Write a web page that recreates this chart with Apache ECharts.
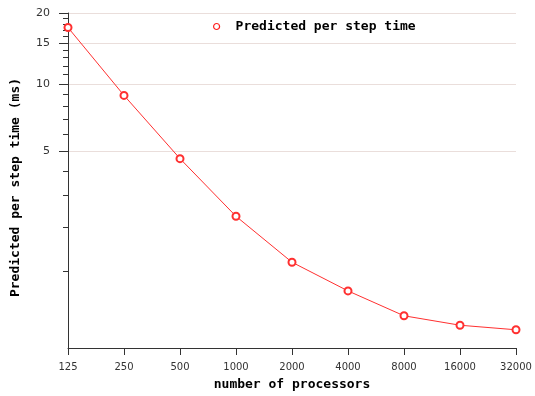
<!DOCTYPE html>
<html lang="en">
<head>
  <meta charset="UTF-8">
  <title>Predicted per step time</title>
  <script src="https://cdn.jsdelivr.net/npm/echarts@6/dist/echarts.min.js"></script>
</head>
<body style="margin:0;background:#fff;">
  <div id="main" style="width:535px;height:396px;"></div>
</body>
<script>
  // processors on x, predicted time (ms) on y
  var processors = ['125', '250', '500', '1000', '2000', '4000', '8000', '16000', '32000'];
  var stepTime = [17.4, 8.93, 4.59, 2.31, 1.18, 0.68, 0.34, 0.23, 0.18];
  var majorTicks = [5, 10, 15, 20];
  var minorTicks = [1, 2, 3, 4, 6, 7, 8, 9, 11, 12, 13, 14, 16, 17, 18, 19];
  var yMax = 20;

  // the y axis of the original is log(1 + t)
  function fwd(v) { return Math.log10(1 + v); }
  function back(v) { return Math.round(Math.pow(10, v) - 1); }

  var myChart = echarts.init(document.getElementById('main'));
  var mono = 'DejaVu Sans Mono';

  option = {
    backgroundColor: '#fff',
    animation: false,
    grid: { left: 68, right: 19, top: 13, bottom: 47 },
    legend: {
      left: 208,
      top: 15,
      data: [{
        name: 'Predicted per step time',
        icon: 'circle',
        itemStyle: { color: 'rgba(0,0,0,0)', borderColor: '#ff2020', borderWidth: 1.2 }
      }],
      itemWidth: 6,
      itemHeight: 6,
      textStyle: { fontFamily: mono, fontWeight: 'bold', fontSize: 13, color: '#000', padding: [0, 0, 0, 11] }
    },
    xAxis: {
      type: 'category',
      data: processors,
      boundaryGap: false,
      name: 'number of processors',
      nameLocation: 'middle',
      nameGap: 30,
      nameTextStyle: { fontFamily: mono, fontWeight: 'bold', fontSize: 13, color: '#000' },
      axisLine: { lineStyle: { color: '#333', width: 1 } },
      axisTick: { alignWithLabel: true, length: 7, lineStyle: { color: '#333' } },
      axisLabel: { fontFamily: 'DejaVu Sans', fontSize: 10, color: '#333', margin: 14 },
      splitLine: { show: false }
    },
    yAxis: [{
      type: 'value',
      min: 0,
      max: fwd(yMax),
      name: 'Predicted per step time (ms)',
      nameLocation: 'middle',
      nameGap: 46,
      nameTextStyle: { fontFamily: mono, fontWeight: 'bold', fontSize: 13, color: '#000', padding: [0, 14, 0, 0] },
      axisLine: { show: true, lineStyle: { color: '#333', width: 1 } },
      axisTick: { show: true, length: 9, customValues: majorTicks.map(fwd), lineStyle: { color: '#333' } },
      axisLabel: {
        customValues: majorTicks.map(fwd),
        fontFamily: 'DejaVu Sans', fontSize: 11, color: '#333', margin: 18,
        formatter: function (v) { return back(v); }
      },
      splitLine: { show: true, lineStyle: { color: '#eadedb', width: 1 } }
    }, {
      type: 'value',
      position: 'left',
      min: 0,
      max: fwd(yMax),
      axisLine: { show: false },
      axisTick: { show: true, length: 5, customValues: minorTicks.map(fwd), lineStyle: { color: '#333' } },
      axisLabel: { show: false },
      splitLine: { show: false }
    }],
    series: [{
      name: 'Predicted per step time',
      type: 'line',
      yAxisIndex: 0,
      data: stepTime.map(fwd),
      symbol: 'emptyCircle',
      symbolSize: 7,
      lineStyle: { color: '#ff3030', width: 1 },
      itemStyle: { color: '#ff3030', borderWidth: 1 }
    }]
  };

  myChart.setOption(option);
</script>
</html>
